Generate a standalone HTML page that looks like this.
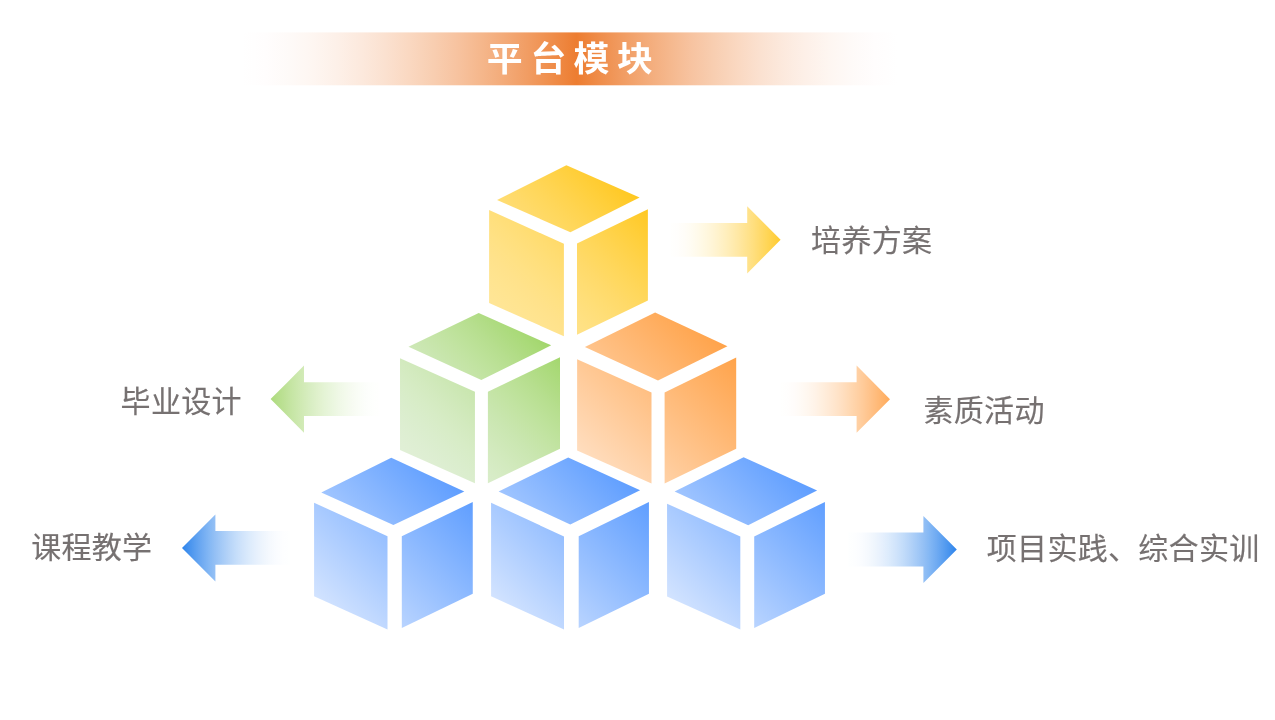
<!DOCTYPE html>
<html lang="zh-CN">
<head>
<meta charset="utf-8">
<title>平台模块</title>
<style>
html,body{margin:0;padding:0;background:#fff;}
body{width:1275px;height:720px;overflow:hidden;position:relative;font-family:"Liberation Sans","Noto Sans CJK SC",sans-serif;}
svg{position:absolute;left:0;top:0;display:block;}
.title{font-family:"Liberation Sans","Noto Sans CJK SC",sans-serif;font-weight:bold;font-size:34px;fill:#fff;text-anchor:middle;}
.lbl{font-family:"Liberation Sans","Noto Sans CJK SC",sans-serif;font-size:30px;letter-spacing:0.3px;fill:#767171;stroke:#767171;stroke-width:0.15px;}
svg{will-change:transform;}
</style>
</head>
<body>
<svg width="1275" height="720" viewBox="0 0 1275 720">
<defs>
<linearGradient id="bar" gradientUnits="userSpaceOnUse" x1="241.7" y1="0" x2="897.5" y2="0"><stop offset="0.0000" stop-color="#FFFFFF"/><stop offset="0.0365" stop-color="#FFFDFD"/><stop offset="0.0729" stop-color="#FEFAF8"/><stop offset="0.1094" stop-color="#FEF6F1"/><stop offset="0.1459" stop-color="#FDF0E8"/><stop offset="0.1823" stop-color="#FCE9DD"/><stop offset="0.2188" stop-color="#FBE1D0"/><stop offset="0.2553" stop-color="#FAD8C1"/><stop offset="0.2917" stop-color="#F8CEB1"/><stop offset="0.3282" stop-color="#F7C3A0"/><stop offset="0.3647" stop-color="#F5B78C"/><stop offset="0.4011" stop-color="#F3AA78"/><stop offset="0.4376" stop-color="#F19C62"/><stop offset="0.4741" stop-color="#EF8D4A"/><stop offset="0.5105" stop-color="#ED7D31"/><stop offset="0.5455" stop-color="#EF8D4A"/><stop offset="0.5804" stop-color="#F19C62"/><stop offset="0.6154" stop-color="#F3AA78"/><stop offset="0.6504" stop-color="#F5B78C"/><stop offset="0.6853" stop-color="#F7C3A0"/><stop offset="0.7203" stop-color="#F8CEB1"/><stop offset="0.7553" stop-color="#FAD8C1"/><stop offset="0.7902" stop-color="#FBE1D0"/><stop offset="0.8252" stop-color="#FCE9DD"/><stop offset="0.8601" stop-color="#FDF0E8"/><stop offset="0.8951" stop-color="#FEF6F1"/><stop offset="0.9301" stop-color="#FEFAF8"/><stop offset="0.9650" stop-color="#FFFDFD"/><stop offset="1.0000" stop-color="#FFFFFF"/></linearGradient>
<linearGradient id="c0" gradientUnits="userSpaceOnUse" x1="489.10" y1="336.30" x2="654.25" y2="171.15"><stop offset="0.0000" stop-color="#FFE699"/><stop offset="0.0625" stop-color="#FFE698"/><stop offset="0.1250" stop-color="#FFE595"/><stop offset="0.1875" stop-color="#FFE490"/><stop offset="0.2500" stop-color="#FFE28B"/><stop offset="0.3125" stop-color="#FFE184"/><stop offset="0.3750" stop-color="#FFDF7C"/><stop offset="0.4375" stop-color="#FFDD73"/><stop offset="0.5000" stop-color="#FFDA6A"/><stop offset="0.5625" stop-color="#FFD85F"/><stop offset="0.6250" stop-color="#FFD554"/><stop offset="0.6875" stop-color="#FFD248"/><stop offset="0.7500" stop-color="#FFCF3B"/><stop offset="0.8125" stop-color="#FFCB2E"/><stop offset="0.8750" stop-color="#FFC81F"/><stop offset="0.9375" stop-color="#FFC410"/><stop offset="1.0000" stop-color="#FFC000"/></linearGradient>
<linearGradient id="c1" gradientUnits="userSpaceOnUse" x1="400.00" y1="484.10" x2="565.15" y2="318.95"><stop offset="0.0000" stop-color="#E2F0D9"/><stop offset="0.0625" stop-color="#E1F0D8"/><stop offset="0.1250" stop-color="#E0EFD5"/><stop offset="0.1875" stop-color="#DDEED1"/><stop offset="0.2500" stop-color="#DAEDCC"/><stop offset="0.3125" stop-color="#D7ECC6"/><stop offset="0.3750" stop-color="#D3EABF"/><stop offset="0.4375" stop-color="#CEE8B7"/><stop offset="0.5000" stop-color="#C9E6AF"/><stop offset="0.5625" stop-color="#C4E4A5"/><stop offset="0.6250" stop-color="#BEE29B"/><stop offset="0.6875" stop-color="#B8DF91"/><stop offset="0.7500" stop-color="#B1DC85"/><stop offset="0.8125" stop-color="#AADA79"/><stop offset="0.8750" stop-color="#A2D66C"/><stop offset="0.9375" stop-color="#9AD35E"/><stop offset="1.0000" stop-color="#92D050"/></linearGradient>
<linearGradient id="c2" gradientUnits="userSpaceOnUse" x1="577.10" y1="483.60" x2="742.25" y2="318.45"><stop offset="0.0000" stop-color="#FFE5CE"/><stop offset="1.0000" stop-color="#FF9936"/></linearGradient>
<linearGradient id="c3" gradientUnits="userSpaceOnUse" x1="314.08" y1="628.77" x2="479.23" y2="463.62"><stop offset="0.0000" stop-color="#E1ECFF"/><stop offset="1.0000" stop-color="#4B92FF"/></linearGradient>
<linearGradient id="c4" gradientUnits="userSpaceOnUse" x1="491.08" y1="628.60" x2="656.23" y2="463.45"><stop offset="0.0000" stop-color="#E1ECFF"/><stop offset="1.0000" stop-color="#4B92FF"/></linearGradient>
<linearGradient id="c5" gradientUnits="userSpaceOnUse" x1="667.08" y1="628.20" x2="832.23" y2="463.05"><stop offset="0.0000" stop-color="#E1ECFF"/><stop offset="1.0000" stop-color="#4B92FF"/></linearGradient>
<linearGradient id="a0" gradientUnits="userSpaceOnUse" x1="670.5" y1="0" x2="780.6" y2="0"><stop offset="0.0000" stop-color="#FFFFFE"/><stop offset="0.0625" stop-color="#FFFEFC"/><stop offset="0.1250" stop-color="#FFFDF8"/><stop offset="0.1875" stop-color="#FFFCF2"/><stop offset="0.2500" stop-color="#FFFAEA"/><stop offset="0.3125" stop-color="#FFF8E1"/><stop offset="0.3750" stop-color="#FFF5D7"/><stop offset="0.4375" stop-color="#FFF2CB"/><stop offset="0.5000" stop-color="#FFEFBE"/><stop offset="0.5625" stop-color="#FFEBB0"/><stop offset="0.6250" stop-color="#FFE7A1"/><stop offset="0.6875" stop-color="#FFE390"/><stop offset="0.7500" stop-color="#FFDF7F"/><stop offset="0.8125" stop-color="#FFDA6C"/><stop offset="0.8750" stop-color="#FFD658"/><stop offset="0.9375" stop-color="#FFD044"/><stop offset="1.0000" stop-color="#FFCB2E"/></linearGradient>
<linearGradient id="a1" gradientUnits="userSpaceOnUse" x1="780.5" y1="0" x2="890.0" y2="0"><stop offset="0.0000" stop-color="#FFFFFE"/><stop offset="0.0625" stop-color="#FFFEFD"/><stop offset="0.1250" stop-color="#FFFCFA"/><stop offset="0.1875" stop-color="#FFFAF5"/><stop offset="0.2500" stop-color="#FFF7EF"/><stop offset="0.3125" stop-color="#FFF3E8"/><stop offset="0.3750" stop-color="#FFEFDF"/><stop offset="0.4375" stop-color="#FFEAD6"/><stop offset="0.5000" stop-color="#FFE5CC"/><stop offset="0.5625" stop-color="#FFDFC1"/><stop offset="0.6250" stop-color="#FFD9B4"/><stop offset="0.6875" stop-color="#FFD2A7"/><stop offset="0.7500" stop-color="#FFCB9A"/><stop offset="0.8125" stop-color="#FFC38B"/><stop offset="0.8750" stop-color="#FFBB7B"/><stop offset="0.9375" stop-color="#FFB36B"/><stop offset="1.0000" stop-color="#FFAA5A"/></linearGradient>
<linearGradient id="a2" gradientUnits="userSpaceOnUse" x1="848.0" y1="0" x2="956.8" y2="0"><stop offset="0.0000" stop-color="#FEFFFF"/><stop offset="0.0625" stop-color="#FDFEFF"/><stop offset="0.1250" stop-color="#FAFCFF"/><stop offset="0.1875" stop-color="#F5F9FE"/><stop offset="0.2500" stop-color="#EEF5FD"/><stop offset="0.3125" stop-color="#E6F0FD"/><stop offset="0.3750" stop-color="#DCEBFC"/><stop offset="0.4375" stop-color="#D1E4FB"/><stop offset="0.5000" stop-color="#C4DDFA"/><stop offset="0.5625" stop-color="#B6D4F8"/><stop offset="0.6250" stop-color="#A6CBF7"/><stop offset="0.6875" stop-color="#96C1F5"/><stop offset="0.7500" stop-color="#83B7F4"/><stop offset="0.8125" stop-color="#70ABF2"/><stop offset="0.8750" stop-color="#5B9FF0"/><stop offset="0.9375" stop-color="#4592EE"/><stop offset="1.0000" stop-color="#2D84EC"/></linearGradient>
<linearGradient id="a3" gradientUnits="userSpaceOnUse" x1="379.5" y1="0" x2="270.6" y2="0"><stop offset="0.0000" stop-color="#FFFFFE"/><stop offset="0.0625" stop-color="#FEFFFD"/><stop offset="0.1250" stop-color="#FCFEFB"/><stop offset="0.1875" stop-color="#FAFDF7"/><stop offset="0.2500" stop-color="#F7FBF2"/><stop offset="0.3125" stop-color="#F3FAEC"/><stop offset="0.3750" stop-color="#EFF8E6"/><stop offset="0.4375" stop-color="#EAF6DE"/><stop offset="0.5000" stop-color="#E5F4D6"/><stop offset="0.5625" stop-color="#E0F1CD"/><stop offset="0.6250" stop-color="#D9EEC4"/><stop offset="0.6875" stop-color="#D3EBB9"/><stop offset="0.7500" stop-color="#CCE8AE"/><stop offset="0.8125" stop-color="#C5E5A3"/><stop offset="0.8750" stop-color="#BDE196"/><stop offset="0.9375" stop-color="#B5DE8A"/><stop offset="1.0000" stop-color="#ACDA7C"/></linearGradient>
<linearGradient id="a4" gradientUnits="userSpaceOnUse" x1="289.8" y1="0" x2="182.0" y2="0"><stop offset="0.0000" stop-color="#FEFFFF"/><stop offset="0.0625" stop-color="#FDFEFF"/><stop offset="0.1250" stop-color="#FAFCFF"/><stop offset="0.1875" stop-color="#F5F9FE"/><stop offset="0.2500" stop-color="#EEF5FD"/><stop offset="0.3125" stop-color="#E6F0FD"/><stop offset="0.3750" stop-color="#DCEBFC"/><stop offset="0.4375" stop-color="#D1E4FB"/><stop offset="0.5000" stop-color="#C4DDFA"/><stop offset="0.5625" stop-color="#B6D4F8"/><stop offset="0.6250" stop-color="#A6CBF7"/><stop offset="0.6875" stop-color="#96C1F5"/><stop offset="0.7500" stop-color="#83B7F4"/><stop offset="0.8125" stop-color="#70ABF2"/><stop offset="0.8750" stop-color="#5B9FF0"/><stop offset="0.9375" stop-color="#4592EE"/><stop offset="1.0000" stop-color="#2D84EC"/></linearGradient>
</defs>
<rect x="241.7" y="32.4" width="655.8" height="52.9" fill="url(#bar)"/>
<text class="title" transform="scale(1.055,1)" x="478.44 519.81 560.57 601.85" y="71.05">平台模块</text>
<g fill="url(#c0)"><polygon points="566.40,165.30 639.60,197.50 570.40,232.25 497.05,200.05"/><polygon points="489.10,210.10 563.90,243.70 563.90,336.25 489.10,302.90"/><polygon points="577.00,243.50 647.90,209.15 647.90,300.40 577.00,334.80"/></g>
<g fill="url(#c1)"><polygon points="478.70,313.10 551.20,345.35 481.30,379.90 408.50,346.80"/><polygon points="400.00,358.30 474.95,391.85 474.95,483.25 400.00,450.00"/><polygon points="487.90,391.85 560.00,357.25 560.00,448.80 487.90,483.20"/></g>
<g fill="url(#c2)"><polygon points="655.10,312.60 727.45,346.15 658.00,380.45 584.90,346.90"/><polygon points="577.10,359.15 651.50,392.40 651.50,483.60 577.10,450.60"/><polygon points="664.60,392.40 736.20,357.60 736.20,448.80 664.60,483.40"/></g>
<g fill="url(#c3)"><polygon points="391.28,457.77 464.30,491.43 393.39,525.05 321.29,492.56"/><polygon points="314.08,502.72 387.50,536.34 387.50,629.52 314.08,596.15"/><polygon points="401.80,536.34 472.77,501.97 472.77,593.64 401.80,628.07"/></g>
<g fill="url(#c4)"><polygon points="568.20,457.60 640.10,490.20 570.27,524.42 498.60,491.55"/><polygon points="491.08,502.85 564.00,536.47 564.00,629.50 491.08,596.20"/><polygon points="578.70,536.34 648.96,502.00 648.96,593.64 578.70,628.10"/></g>
<g fill="url(#c5)"><polygon points="743.60,457.20 817.10,490.40 748.15,525.17 674.60,491.55"/><polygon points="667.08,503.66 740.31,536.47 740.31,629.50 667.08,596.60"/><polygon points="754.20,536.47 824.96,502.00 824.96,593.64 754.20,628.10"/></g>
<polygon fill="url(#a0)" points="670.5,222.9 747.2,222.9 747.2,206.3 780.6,239.8 747.2,273.4 747.2,256.8 670.5,256.8"/>
<polygon fill="url(#a1)" points="780.5,382.3 856.6,382.3 856.6,365.6 890.0,399.2 856.6,432.8 856.6,416.1 780.5,416.1"/>
<polygon fill="url(#a2)" points="848.0,532.6 923.4,532.6 923.4,516.0 956.8,549.5 923.4,583.1 923.4,566.4 848.0,566.4"/>
<polygon fill="url(#a3)" points="379.5,382.2 304.0,382.2 304.0,365.6 270.6,399.1 304.0,432.7 304.0,416.0 379.5,416.0"/>
<polygon fill="url(#a4)" points="289.8,531.0 215.4,531.0 215.4,514.4 182.0,547.9 215.4,581.4 215.4,564.8 289.8,564.8"/>
<text class="lbl" x="811.1" y="251">培养方案</text>
<text class="lbl" x="923.5" y="421">素质活动</text>
<text class="lbl" x="986.8" y="559">项目实践、综合实训</text>
<text class="lbl" x="120.6" y="412">毕业设计</text>
<text class="lbl" x="31.2" y="558">课程教学</text>
</svg>
</body>
</html>
